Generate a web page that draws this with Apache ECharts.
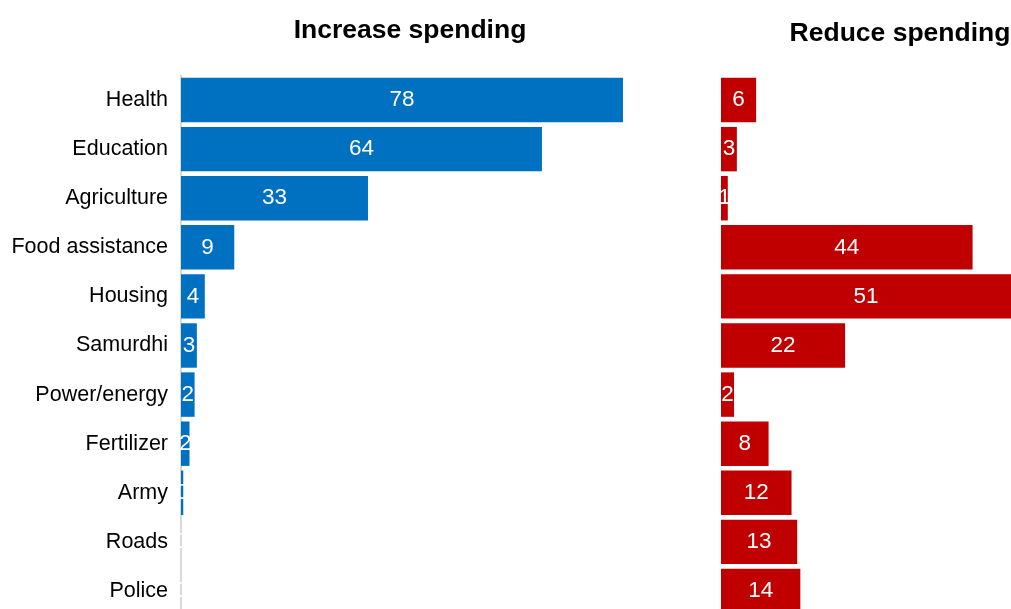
<!DOCTYPE html>
<html>
<head>
<meta charset="utf-8">
<script src="https://cdn.jsdelivr.net/npm/echarts@6/dist/echarts.min.js"></script>
<style>html,body{margin:0;padding:0;background:#fff}#c{width:1011px;height:609px}</style>
</head>
<body>
<div id="c"></div>
<script>
var categories = ['Health','Education','Agriculture','Food assistance','Housing','Samurdhi','Power/energy','Fertilizer','Army','Roads','Police'];
var increaseValues = [78, 63.7, 33, 9.4, 4.2, 2.8, 2.4, 1.5, 0.4, 0, 0];
var reduceValues = [6.2, 2.8, 1.2, 44.4, 51.2, 21.9, 2.3, 8.4, 12.45, 13.45, 14];
var titles = ['Increase spending', 'Reduce spending'];

var chart = echarts.init(document.getElementById('c'));
var font = 'Liberation Sans, Arial, sans-serif';
var top0 = 75.5, h = 540;
chart.setOption({
  animation: false,
  title: [
    {text: titles[0], left: 405, top: 12, textAlign: 'center', textStyle: {fontFamily: font, fontSize: 26.5, fontWeight: 'bold', color: '#000'}},
    {text: titles[1], left: 895, top: 15, textAlign: 'center', textStyle: {fontFamily: font, fontSize: 26.5, fontWeight: 'bold', color: '#000'}}
  ],
  grid: [
    {left: 181, top: top0, width: 453.3, height: h, outerBoundsMode: 'none'},
    {left: 721, top: top0, width: 340, height: h, outerBoundsMode: 'none'}
  ],
  xAxis: [
    {gridIndex: 0, type: 'value', min: 0, max: 80, show: false},
    {gridIndex: 1, type: 'value', min: 0, max: 60, show: false}
  ],
  yAxis: [
    {gridIndex: 0, type: 'category', data: categories, inverse: true,
      axisLine: {show: true, lineStyle: {color: '#d9d9d9', width: 2}},
      axisTick: {show: false},
      axisLabel: {fontFamily: font, fontSize: 21.5, color: '#000', margin: 13}},
    {gridIndex: 1, type: 'category', data: categories, inverse: true, show: false}
  ],
  series: [
    {type: 'bar', xAxisIndex: 0, yAxisIndex: 0, data: increaseValues, barCategoryGap: '9.5%',
      itemStyle: {color: '#0070C0'},
      label: {show: true, position: 'inside', color: '#fff', fontFamily: font, fontSize: 22.5,
        formatter: function (p) { return Math.round(p.value); }}},
    {type: 'bar', xAxisIndex: 1, yAxisIndex: 1, data: reduceValues, barCategoryGap: '9.5%',
      itemStyle: {color: '#C00000'},
      label: {show: true, position: 'inside', color: '#fff', fontFamily: font, fontSize: 22.5,
        formatter: function (p) { return Math.round(p.value); }}}
  ]
});
</script>
</body>
</html>
